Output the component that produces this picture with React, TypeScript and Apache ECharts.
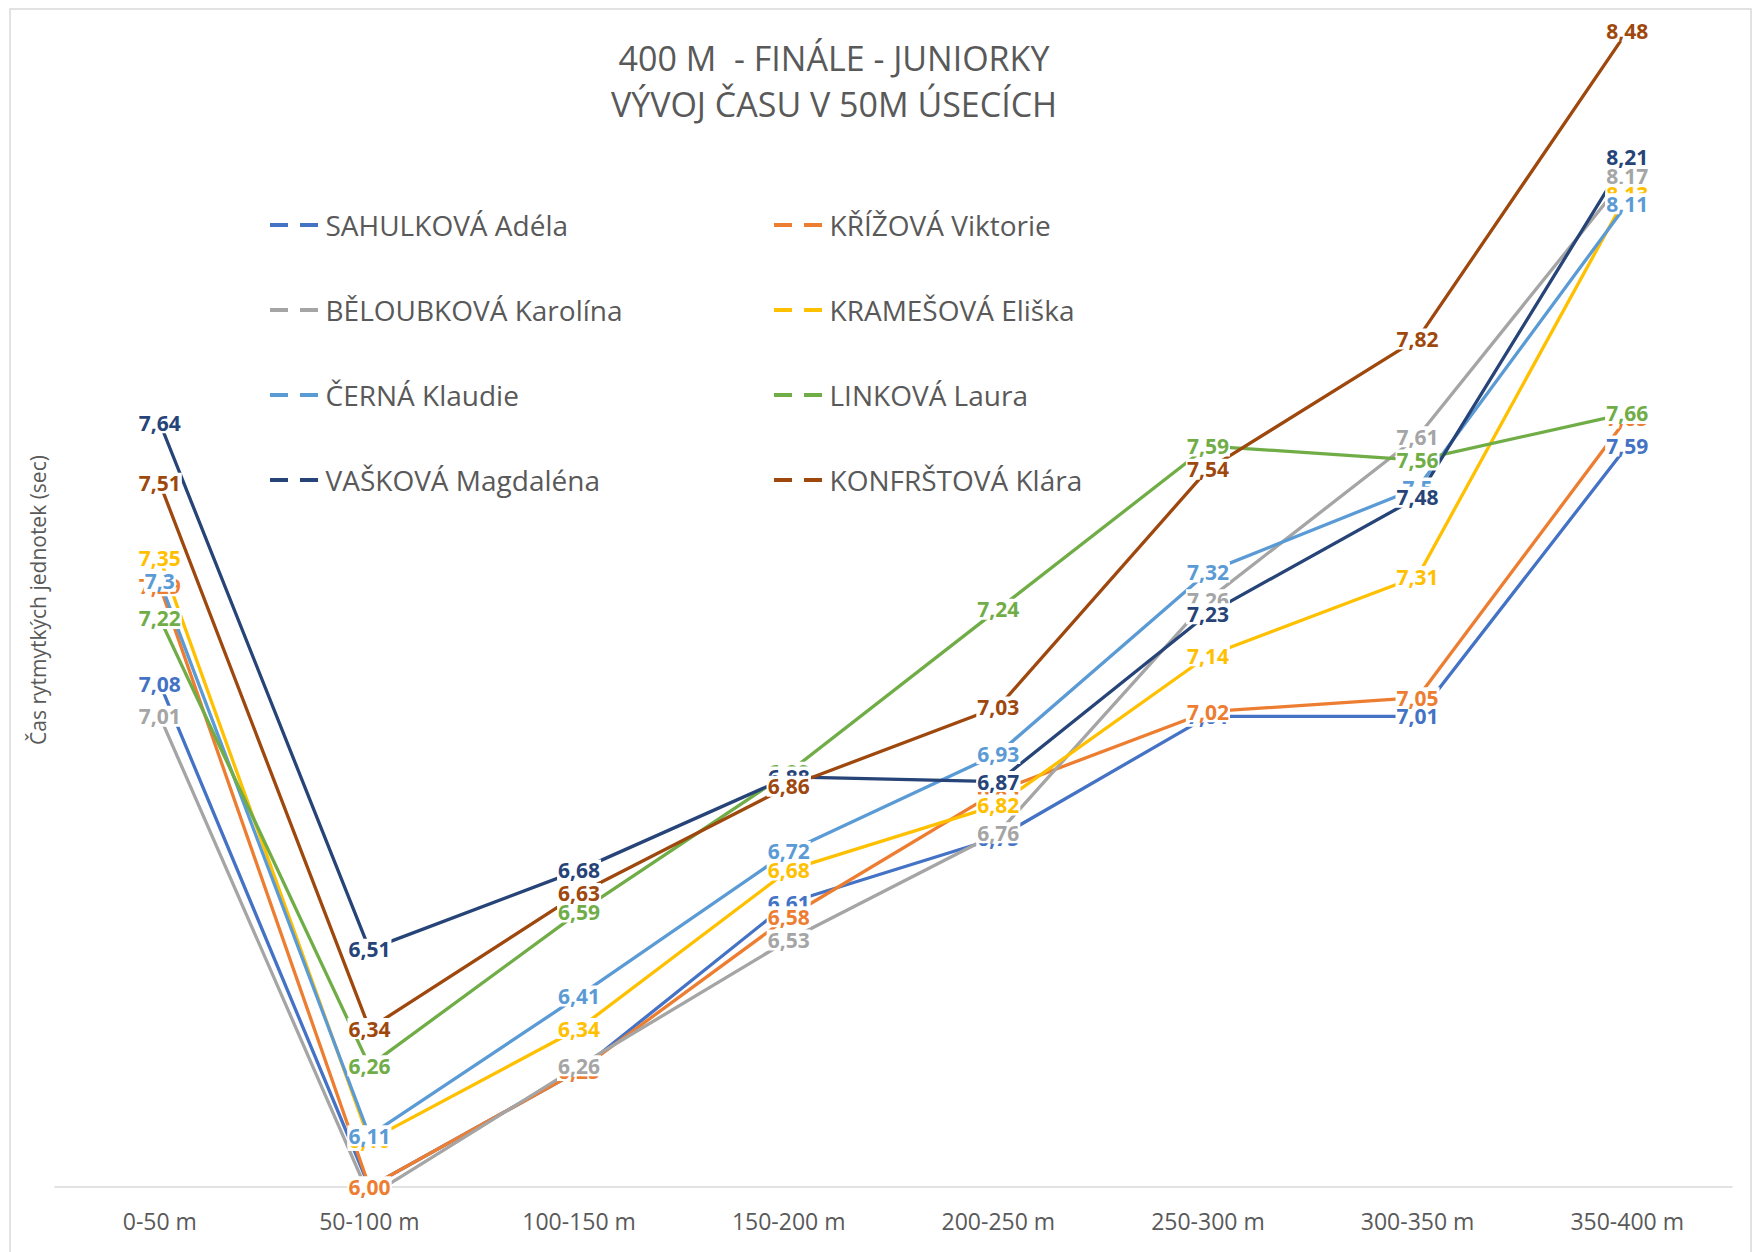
import React, { useEffect, useRef } from "react";
import * as echarts from "echarts";

const categories = ["0-50 m", "50-100 m", "100-150 m", "150-200 m", "200-250 m", "250-300 m", "300-350 m", "350-400 m"];

const names = [
  "SAHULKOVÁ Adéla",
  "KŘÍŽOVÁ Viktorie",
  "BĚLOUBKOVÁ Karolína",
  "KRAMEŠOVÁ Eliška",
  "ČERNÁ Klaudie",
  "LINKOVÁ Laura",
  "VAŠKOVÁ Magdaléna",
  "KONFRŠTOVÁ Klára",
];

// values as shown in the data labels (decimal comma)
const sahulkova = ["7,08", "6,00", "6,25", "6,61", "6,75", "7,01", "7,01", "7,59"];
const krizova = ["7,29", "6,00", "6,25", "6,58", "6,85", "7,02", "7,05", "7,65"];
const beloubkova = ["7,01", "5,98", "6,26", "6,53", "6,76", "7,26", "7,61", "8,17"];
const kramesova = ["7,35", "6,10", "6,34", "6,68", "6,82", "7,14", "7,31", "8,13"];
const cerna = ["7,3", "6,11", "6,41", "6,72", "6,93", "7,32", "7,5", "8,11"];
const linkova = ["7,22", "6,26", "6,59", "6,89", "7,24", "7,59", "7,56", "7,66"];
const vaskova = ["7,64", "6,51", "6,68", "6,88", "6,87", "7,23", "7,48", "8,21"];
const konfrstova = ["7,51", "6,34", "6,63", "6,86", "7,03", "7,54", "7,82", "8,48"];

const seriesValues = [sahulkova, krizova, beloubkova, kramesova, cerna, linkova, vaskova, konfrstova];
const colors = ["#4472C4", "#ED7D31", "#A5A5A5", "#FFC000", "#5B9BD5", "#70AD47", "#264478", "#9E480E"];

const yMin = 6;
const yMax = 8.5;

const FONT = "'Open Sans', 'Noto Sans', sans-serif";
const DASH_ICON = "path://M0,0H18V4H0Z M30,0H48V4H30Z";

const toNum = (s: string) => parseFloat(s.replace(",", "."));

export default function App() {
  const ref = useRef<HTMLDivElement>(null);
  useEffect(() => {
    document.body.style.margin = "0";
    const chart = echarts.init(ref.current!, undefined, { renderer: "svg" });
    const series = names.map((n, i) => ({
      name: n,
      type: "line",
      symbol: "circle",
      symbolSize: 0.1,
      showSymbol: true,
      clip: true,
      lineStyle: { color: colors[i], width: 3.3 },
      itemStyle: { color: colors[i] },
      label: {
        show: true,
        position: "inside",
        color: colors[i],
        fontFamily: FONT,
        fontWeight: "bold",
        fontSize: 21,
        backgroundColor: "#ffffff",
        padding: [0, 1],
        formatter: (p: any) => seriesValues[i][p.dataIndex],
      },
      data: seriesValues[i].map((s) => {
        const v = toNum(s);
        return v < yMin ? { value: v, label: { show: false } } : v;
      }),
    }));
    const legendCommon = {
      orient: "vertical",
      icon: DASH_ICON,
      itemWidth: 53,
      itemHeight: 4,
      itemGap: 57,
      textStyle: { color: "#595959", fontSize: 28, fontFamily: FONT },
    };
    chart.setOption({
      animation: false,
      textStyle: { fontFamily: FONT },
      title: {
        text: "400 M  - FINÁLE - JUNIORKY\nVÝVOJ ČASU V 50M ÚSECÍCH",
        left: 829,
        top: 30,
        textAlign: "center",
        textStyle: { color: "#595959", fontSize: 34, fontWeight: "normal", fontFamily: FONT, lineHeight: 46 },
      },
      legend: [
        { ...legendCommon, left: 265, top: 206, data: [names[0], names[2], names[4], names[6]] },
        { ...legendCommon, left: 769, top: 206, data: [names[1], names[3], names[5], names[7]] },
      ],
      grid: { left: 55, right: 22, top: 22, bottom: 65 },
      xAxis: {
        type: "category",
        data: categories,
        boundaryGap: true,
        axisLine: { lineStyle: { color: "#D9D9D9", width: 1.5 } },
        axisTick: { show: false },
        axisLabel: { color: "#595959", fontSize: 23, fontFamily: FONT, margin: 22 },
      },
      yAxis: {
        type: "value",
        min: yMin,
        max: yMax,
        axisLine: { show: false },
        axisTick: { show: false },
        axisLabel: { show: false },
        splitLine: { show: false },
      },
      graphic: [
        {
          type: "rect",
          shape: { x: 10, y: 9, width: 1741, height: 1270 },
          style: { fill: "none", stroke: "#D9D9D9", lineWidth: 1.5 },
          silent: true,
        },
        {
          type: "text",
          x: 38,
          y: 600,
          rotation: Math.PI / 2,
          style: {
            text: "Čas rytmytkých jednotek (sec)",
            fill: "#595959",
            fontSize: 21,
            fontFamily: FONT,
            align: "center",
            verticalAlign: "middle",
          },
        },
      ],
      series,
    });
    return () => chart.dispose();
  }, []);
  return <div ref={ref} style={{ width: 1754, height: 1252 }} />;
}
